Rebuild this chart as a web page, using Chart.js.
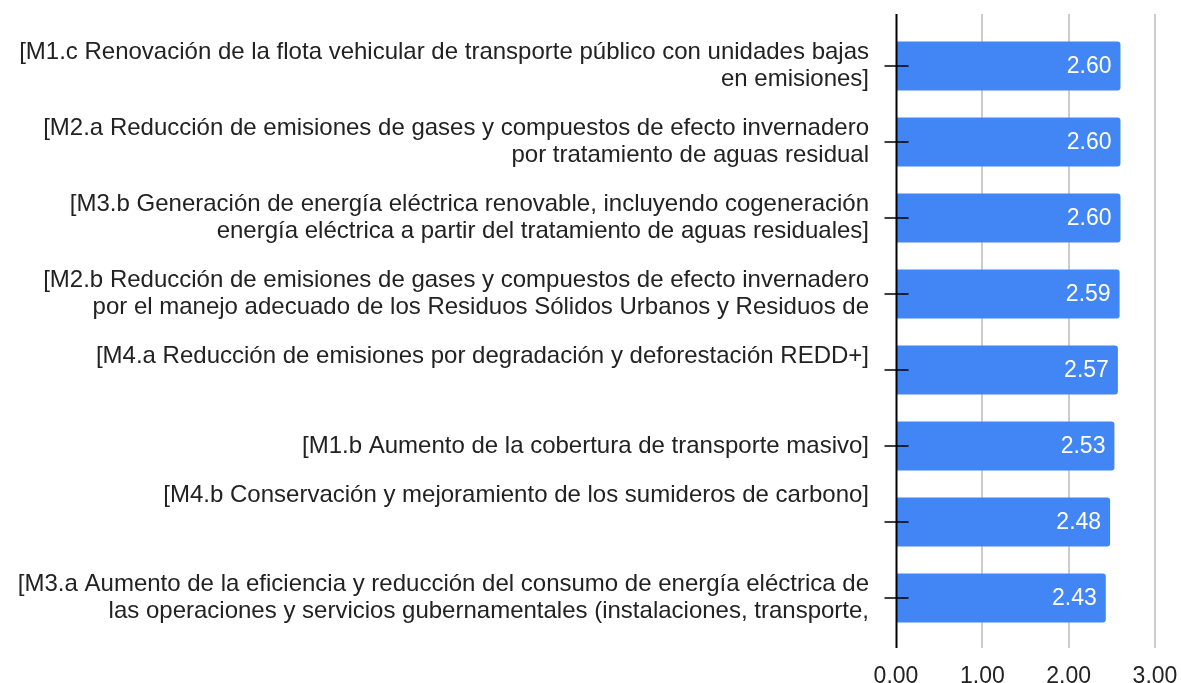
<!DOCTYPE html>
<html>
<head>
<meta charset="utf-8">
<script src="https://cdn.jsdelivr.net/npm/chart.js@4/dist/chart.umd.min.js"></script>
<style>
  html, body { margin: 0; padding: 0; background: #fff; }
  #wrap { width: 1181px; height: 683px; }
</style>
</head>
<body>
<div id="wrap"><canvas id="myChart" width="1181" height="683"></canvas></div>
<script>
// labels (multi-line, blank lines keep the sheet's odd vertical offsets)
var labels = [
    ["[M1.c Renovación de la flota vehicular de transporte público con unidades bajas", "en emisiones]"],
    ["[M2.a Reducción de emisiones de gases y compuestos de efecto invernadero", "por tratamiento de aguas residual"],
    ["[M3.b Generación de energía eléctrica renovable, incluyendo cogeneración", "energía eléctrica a partir del tratamiento de aguas residuales]"],
    ["[M2.b Reducción de emisiones de gases y compuestos de efecto invernadero", "por el manejo adecuado de los Residuos Sólidos Urbanos y Residuos de"],
    ["[M4.a Reducción de emisiones por degradación y deforestación REDD+]", ""],
    "[M1.b Aumento de la cobertura de transporte masivo]",
    ["[M4.b Conservación y mejoramiento de los sumideros de carbono]", "", ""],
    ["[M3.a Aumento de la eficiencia y reducción del consumo de energía eléctrica de", "las operaciones y servicios gubernamentales (instalaciones, transporte,"]
];
var values = [2.60, 2.60, 2.60, 2.59, 2.57, 2.53, 2.48, 2.43];
var xTicks = [0, 1, 2, 3];

var font = "'Liberation Sans', Arial, sans-serif";

// axis line, extended grid lines, tick marks and value labels
var extras = {
    id: "extras",
    beforeDatasetsDraw: function(chart) {
        var ctx = chart.ctx;
        var area = chart.chartArea;
        var x = chart.scales.x;
        ctx.save();
        ctx.strokeStyle = "#cccccc";
        ctx.lineWidth = 2;
        for (var i = 1; i < xTicks.length; i++) {
            var px = Math.round(x.getPixelForValue(xTicks[i]));
            ctx.beginPath();
            ctx.moveTo(px, area.top - 14);
            ctx.lineTo(px, area.bottom + 12);
            ctx.stroke();
        }
        ctx.restore();
    },
    afterDatasetsDraw: function(chart) {
        var ctx = chart.ctx;
        var area = chart.chartArea;
        var x = chart.scales.x;
        var y = chart.scales.y;
        var x0 = Math.round(x.getPixelForValue(0)) + 0.5;
        ctx.save();
        ctx.strokeStyle = "#000";
        ctx.lineWidth = 2;
        ctx.beginPath();
        ctx.moveTo(x0, area.top - 14);
        ctx.lineTo(x0, area.bottom + 12);
        ctx.stroke();
        ctx.lineWidth = 1.5;
        for (var i = 0; i < values.length; i++) {
            var py = Math.round(y.getPixelForValue(i));
            ctx.beginPath();
            ctx.moveTo(x0 - 12, py);
            ctx.lineTo(x0 + 12, py);
            ctx.stroke();
        }
        // value labels
        var meta = chart.getDatasetMeta(0);
        ctx.fillStyle = "#fff";
        ctx.font = "23px " + font;
        ctx.textAlign = "right";
        ctx.textBaseline = "middle";
        meta.data.forEach(function(bar, i) {
            ctx.fillText(values[i].toFixed(2), bar.x - 9, bar.y + 1);
        });
        ctx.restore();
    }
};

const canvas = document.getElementById("myChart");
const chart = new Chart(canvas, {
    type: "bar",
    data: {
        labels: labels,
        datasets: [{
            data: values,
            backgroundColor: "#4285f4",
            borderRadius: { topRight: 3, bottomRight: 3, topLeft: 0, bottomLeft: 0 },
            borderSkipped: false,
            barPercentage: 0.645,
            categoryPercentage: 1
        }]
    },
    options: {
        indexAxis: "y",
        responsive: false,
        animation: false,
        devicePixelRatio: 1,
        layout: { padding: { top: 28, right: 26, bottom: 0, left: 0 } },
        plugins: {
            legend: { display: false },
            tooltip: { enabled: false }
        },
        scales: {
            x: {
                min: 0,
                max: 3,
                afterBuildTicks: function(scale) {
                    scale.ticks = xTicks.map(function(v) { return { value: v }; });
                },
                afterFit: function(scale) {
                    scale.height = 47;
                    scale.paddingLeft = 0;
                    scale.paddingRight = 0;
                },
                grid: { display: false },
                border: { display: false },
                ticks: {
                    padding: 19,
                    color: "#222",
                    font: { family: font, size: 23 },
                    callback: function(v) { return Number(v).toFixed(2); }
                }
            },
            y: {
                afterFit: function(scale) {
                    scale.width = 896;
                    scale.paddingTop = 0;
                    scale.paddingBottom = 0;
                },
                grid: { display: false },
                border: { display: false },
                ticks: {
                    padding: 19,
                    color: "#222",
                    font: { family: font, size: 24, lineHeight: 1.125 },
                    autoSkip: false
                }
            }
        }
    },
    plugins: [extras]
});
</script>
</body>
</html>
